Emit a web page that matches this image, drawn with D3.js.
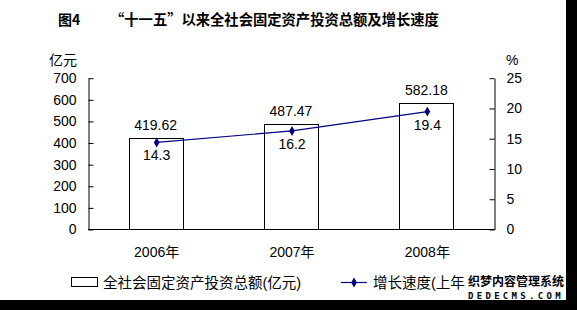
<!DOCTYPE html>
<html><head><meta charset="utf-8">
<script src="https://cdn.jsdelivr.net/npm/d3@7"></script>
<style>
body{margin:0;background:#fff;}
svg{display:block;}
text{font-family:"Liberation Sans","Noto Sans CJK SC",sans-serif;fill:#000;}
</style></head>
<body><svg id="c" width="577" height="310"></svg>
<script>
const categories = ["2006年", "2007年", "2008年"];
const investment = [419.62, 487.47, 582.18];
const growth = [14.3, 16.2, 19.4];
const leftTicks = [0, 100, 200, 300, 400, 500, 600, 700];
const rightTicks = [0, 5, 10, 15, 20, 25];
const titleNum = "图4";
const titleText = "“十一五”以来全社会固定资产投资总额及增长速度";
// second legend entry is cut off by the watermark in the reference
const seriesNames = ["全社会固定资产投资总额(亿元)", "增长速度(上年"];

const svg = d3.select("#c");
const W = 577, H = 310;
const m = {left: 88, right: 494, top: 77.7, bottom: 229};

const x = d3.scaleBand().domain(categories).range([m.left, m.right]).paddingInner(0.6).paddingOuter(0.3);
const yL = d3.scaleLinear().domain([0, 700]).range([m.bottom, m.top]);
const yR = d3.scaleLinear().domain([0, 25]).range([m.bottom, m.top]);
const cx = d => x(d) + x.bandwidth() / 2;

// title
svg.append("text").attr("x", 58).attr("y", 25).attr("font-size", 14).attr("font-weight", "bold")
  .style("font-family", '"Noto Sans CJK SC",sans-serif').text(titleNum);
svg.append("text").attr("x", 110).attr("y", 25).attr("font-size", 14.3).attr("font-weight", "bold")
  .style("font-family", '"Noto Sans CJK SC",sans-serif').text(titleText);

// bars
svg.append("g").selectAll("rect").data(investment).join("rect")
  .attr("x", (d, i) => Math.round(x(categories[i])) + 0.5)
  .attr("y", d => Math.round(yL(d)) + 0.5)
  .attr("width", Math.round(x.bandwidth()))
  .attr("height", d => Math.round(m.bottom - yL(d)))
  .attr("fill", "#fff").attr("stroke", "#000").attr("stroke-width", 1);

// axes
const axL = d3.axisLeft(yL).tickValues(leftTicks).tickSizeInner(-5).tickSizeOuter(0).tickPadding(12);
const axR = d3.axisRight(yR).tickValues(rightTicks).tickSizeInner(-5).tickSizeOuter(0).tickPadding(12);
const gL = svg.append("g").attr("transform", `translate(${m.left + 0.5},0.5)`).call(axL);
const gR = svg.append("g").attr("transform", `translate(${m.right + 0.5},0.5)`).call(axR);
[gL, gR].forEach(g => {
  g.select(".domain").attr("stroke", "#000");
  g.selectAll(".tick line").attr("stroke", "#000");
  g.selectAll(".tick text").attr("font-size", 14).attr("fill", "#000")
    .style("font-family", '"Liberation Sans",sans-serif');
});
svg.append("line").attr("x1", m.left).attr("x2", m.right + 1).attr("y1", m.bottom + 0.5).attr("y2", m.bottom + 0.5)
  .attr("stroke", "#000");

// x labels
svg.append("g").selectAll("text").data(categories).join("text")
  .attr("x", d => cx(d) + 1).attr("y", 257).attr("text-anchor", "middle").attr("font-size", 14).text(d => d);

// unit labels
svg.append("text").attr("x", 77).attr("y", 65).attr("text-anchor", "end").attr("font-size", 14).text("亿元");
svg.append("text").attr("x", 506).attr("y", 65).attr("font-size", 14).text("%");

// bar value labels
svg.append("g").selectAll("text").data(investment).join("text")
  .attr("x", (d, i) => cx(categories[i])).attr("y", d => yL(d) - 8)
  .attr("text-anchor", "middle").attr("font-size", 14).text(d => d.toFixed(2));

// line
const line = d3.line().x((d, i) => cx(categories[i]) + 1).y(d => yR(d));
svg.append("path").datum(growth).attr("d", line).attr("fill", "none").attr("stroke", "#000080").attr("stroke-width", 1.2);
const diamond = d3.symbol().type(d3.symbolDiamond).size(28);
svg.append("g").selectAll("path").data(growth).join("path")
  .attr("transform", (d, i) => `translate(${cx(categories[i]) + 1},${yR(d)})`)
  .attr("d", diamond).attr("fill", "#000080");
svg.append("g").selectAll("text").data(growth).join("text")
  .attr("x", (d, i) => cx(categories[i]) + 1).attr("y", d => yR(d) + 18)
  .attr("text-anchor", "middle").attr("font-size", 14).text(d => d.toFixed(1));

// legend
svg.append("rect").attr("x", 71.5).attr("y", 277.5).attr("width", 26).attr("height", 9)
  .attr("fill", "#fff").attr("stroke", "#000");
svg.append("text").attr("x", 103).attr("y", 288).attr("font-size", 14.5).text(seriesNames[0]);
svg.append("line").attr("x1", 341).attr("x2", 367).attr("y1", 282.5).attr("y2", 282.5)
  .attr("stroke", "#000080").attr("stroke-width", 1.2);
svg.append("path").attr("transform", "translate(354,282.5)").attr("d", diamond).attr("fill", "#000080");
svg.append("text").attr("x", 373).attr("y", 288).attr("font-size", 14.5).text(seriesNames[1]);

// watermark
svg.append("rect").attr("x", 467).attr("y", 274).attr("width", 99).attr("height", 26).attr("fill", "#fff");
svg.append("text").attr("x", 468).attr("y", 285.5).attr("font-size", 12).attr("font-weight", "bold")
  .style("font-family", '"Noto Sans CJK SC",sans-serif').text("织梦内容管理系统");
svg.append("text").attr("x", 468).attr("y", 299).attr("font-size", 9).attr("font-weight", "bold")
  .attr("letter-spacing", 3.3).style("font-family", '"DejaVu Sans Mono",monospace').text("DEDECMS.COM");

// dark frame edges
svg.append("rect").attr("x", 566).attr("y", 0).attr("width", 11).attr("height", H).attr("fill", "#000");
svg.append("rect").attr("x", 0).attr("y", 300).attr("width", W).attr("height", 10).attr("fill", "#000");
</script></body></html>
